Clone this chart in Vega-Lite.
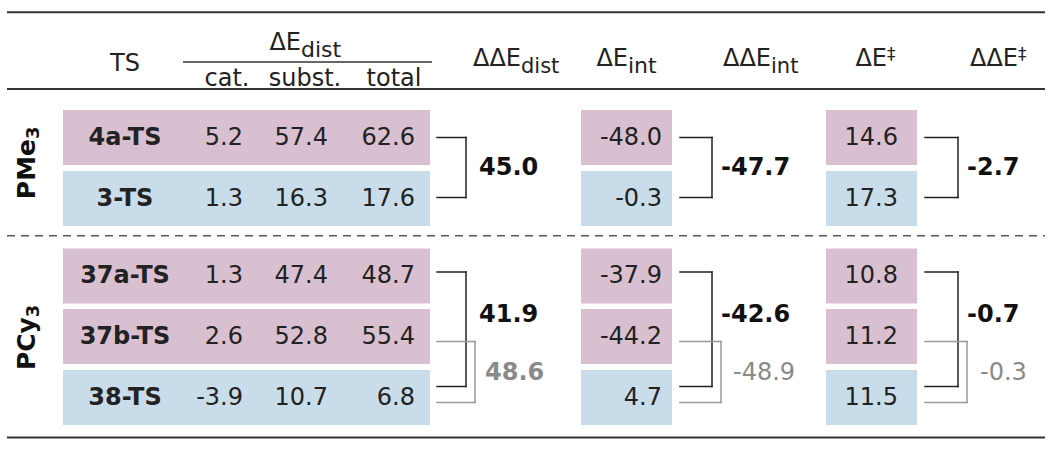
{
"$schema":"https://vega.github.io/schema/vega-lite/v6.json",
"width":1050,"height":452,"padding":0,"autosize":{"type":"none"},
"background":"white",
"config":{"view":{"stroke":null},
 "axis":{"disable":true},
 "locale":{"number":{"decimal":".","thousands":",","grouping":[3],"currency":["$",""],"minus":"-"}},
 "text":{"font":"DejaVu Sans","fontSize":24,"color":"#222222"},
 "rule":{"color":"#222222","strokeWidth":1.5,"strokeCap":"square"}},
"datasets":{
 "ts":[
  {"section":"PMe3","row":1,"ts":"4a-TS","kind":"A","cat":5.2,"subst":57.4,"total":62.6,"Eint":-48.0,"Ea":14.6},
  {"section":"PMe3","row":2,"ts":"3-TS","kind":"B","cat":1.3,"subst":16.3,"total":17.6,"Eint":-0.3,"Ea":17.3},
  {"section":"PCy3","row":3,"ts":"37a-TS","kind":"A","cat":1.3,"subst":47.4,"total":48.7,"Eint":-37.9,"Ea":10.8},
  {"section":"PCy3","row":4,"ts":"37b-TS","kind":"A","cat":2.6,"subst":52.8,"total":55.4,"Eint":-44.2,"Ea":11.2},
  {"section":"PCy3","row":5,"ts":"38-TS","kind":"B","cat":-3.9,"subst":10.7,"total":6.8,"Eint":4.7,"Ea":11.5}
 ],
 "br":[
  {"id":"b1","section":"PMe3","top":1,"bottom":2,"ddEdist":45.0,"ddEint":-47.7,"ddEa":-2.7},
  {"id":"b2","section":"PCy3","top":3,"bottom":5,"ddEdist":41.9,"ddEint":-42.6,"ddEa":-0.7},
  {"id":"b3","section":"PCy3","top":4,"bottom":5,"ddEdist":48.6,"ddEint":-48.9,"ddEa":-0.3}
 ],
 "one":[{}]
},
"layer":[
 {"data":{"name":"ts"},"mark":{"type":"bar","height":55},
  "encoding":{
   "x":{"datum":2,"type":"quantitative","axis":null,"scale":{"domain":[0,1,2,3,4,5,6,7,8,9,10,11,12,13,14,15,16,17,18,19,20,21,22,23,24,25,26,27,28,29,30,31,32,33,34,35,36,37,38],"range":[7,27,63,125,183,227,243,301,305,328,394,415,430,432,437,466,475,479,485,521,581,628,662,672,680,712,721,733,771,826,887,898,917,925,958,967,980,1018,1045],"zero":false,"nice":false}},
   "x2":{"datum":12},
   "y":{"field":"row","type":"quantitative","axis":null,"scale":{"domain":[-6,-5,-4,-3,-2,-1,1,2,3,4,5,6],"range":[7,50,62,66,86,89,137.5,198.5,276,336.5,397.5,443],"zero":false,"nice":false}},
   "color":{"field":"kind","type":"nominal","scale":{"domain":["A","B"],"range":["#d9c0d0","#c9dcea"]},"legend":null}}},
 {"data":{"name":"ts"},"mark":{"type":"bar","height":55},
  "encoding":{"x":{"datum":20,"type":"quantitative"},"x2":{"datum":23},"y":{"field":"row","type":"quantitative"},
   "color":{"field":"kind","type":"nominal","legend":null}}},
 {"data":{"name":"ts"},"mark":{"type":"bar","height":55},
  "encoding":{"x":{"datum":29,"type":"quantitative"},"x2":{"datum":32},"y":{"field":"row","type":"quantitative"},
   "color":{"field":"kind","type":"nominal","legend":null}}},
 {"data":{"name":"ts"},"encoding":{"y":{"field":"row","type":"quantitative"}},
  "layer":[
   {"mark":{"type":"text","fontWeight":"bold","align":"center","baseline":"middle"},"encoding":{"x":{"datum":3,"type":"quantitative"},"text":{"field":"ts"}}},
   {"mark":{"type":"text","align":"right","baseline":"middle"},"encoding":{"x":{"datum":6,"type":"quantitative"},"text":{"field":"cat","type":"quantitative","format":".1f"}}},
   {"mark":{"type":"text","align":"right","baseline":"middle"},"encoding":{"x":{"datum":9,"type":"quantitative"},"text":{"field":"subst","type":"quantitative","format":".1f"}}},
   {"mark":{"type":"text","align":"right","baseline":"middle"},"encoding":{"x":{"datum":11,"type":"quantitative"},"text":{"field":"total","type":"quantitative","format":".1f"}}},
   {"mark":{"type":"text","align":"right","baseline":"middle"},"encoding":{"x":{"datum":22,"type":"quantitative"},"text":{"field":"Eint","type":"quantitative","format":".1f"}}},
   {"mark":{"type":"text","align":"right","baseline":"middle"},"encoding":{"x":{"datum":31,"type":"quantitative"},"text":{"field":"Ea","type":"quantitative","format":".1f"}}}
  ]},
 {"data":{"name":"one"},
  "layer":[
   {"mark":{"type":"rule","strokeWidth":2,"color":"#333333","strokeCap":"butt"},"encoding":{"x":{"datum":0,"type":"quantitative"},"x2":{"datum":38},"y":{"datum":-6,"type":"quantitative"}}},
   {"mark":{"type":"rule","strokeWidth":2,"color":"#333333","strokeCap":"butt"},"encoding":{"x":{"datum":0,"type":"quantitative"},"x2":{"datum":38},"y":{"datum":-1,"type":"quantitative"}}},
   {"mark":{"type":"rule","strokeWidth":2,"color":"#333333","strokeCap":"butt"},"encoding":{"x":{"datum":0,"type":"quantitative"},"x2":{"datum":38},"y":{"datum":6,"type":"quantitative"}}},
   {"mark":{"type":"rule","strokeWidth":1.5,"color":"#555555","strokeDash":[8,6],"strokeCap":"butt"},"encoding":{"x":{"datum":0,"type":"quantitative"},"x2":{"datum":38},"y":{"datum":2.48,"type":"quantitative"}}},
   {"mark":{"type":"rule","strokeWidth":1.5,"color":"#333333","strokeCap":"butt"},"encoding":{"x":{"datum":4,"type":"quantitative"},"x2":{"datum":13},"y":{"datum":-4,"type":"quantitative"}}},
   {"mark":{"type":"text","text":"TS","align":"center","baseline":"alphabetic","dy":5},"encoding":{"x":{"datum":3,"type":"quantitative"},"y":{"datum":-3,"type":"quantitative"}}},
   {"mark":{"type":"text","text":"ΔE","align":"right","baseline":"alphabetic"},"encoding":{"x":{"datum":7,"type":"quantitative"},"y":{"datum":-5,"type":"quantitative"}}},
   {"mark":{"type":"text","text":"dist","align":"left","baseline":"alphabetic","dy":7,"fontSize":22},"encoding":{"x":{"datum":7,"type":"quantitative"},"y":{"datum":-5,"type":"quantitative"}}},
   {"mark":{"type":"text","text":"cat.","align":"center","baseline":"alphabetic"},"encoding":{"x":{"datum":5,"type":"quantitative"},"y":{"datum":-2,"type":"quantitative"}}},
   {"mark":{"type":"text","text":"subst.","align":"center","baseline":"alphabetic"},"encoding":{"x":{"datum":8,"type":"quantitative"},"y":{"datum":-2,"type":"quantitative"}}},
   {"mark":{"type":"text","text":"total","align":"center","baseline":"alphabetic"},"encoding":{"x":{"datum":10,"type":"quantitative"},"y":{"datum":-2,"type":"quantitative"}}},
   {"mark":{"type":"text","text":"ΔΔE","align":"right","baseline":"alphabetic"},"encoding":{"x":{"datum":19,"type":"quantitative"},"y":{"datum":-3,"type":"quantitative"}}},
   {"mark":{"type":"text","text":"dist","align":"left","baseline":"alphabetic","dy":7,"fontSize":21},"encoding":{"x":{"datum":19,"type":"quantitative"},"y":{"datum":-3,"type":"quantitative"}}},
   {"mark":{"type":"text","text":"ΔE","align":"right","baseline":"alphabetic"},"encoding":{"x":{"datum":21,"type":"quantitative"},"y":{"datum":-3,"type":"quantitative"}}},
   {"mark":{"type":"text","text":"int","align":"left","baseline":"alphabetic","dy":7,"fontSize":22},"encoding":{"x":{"datum":21,"type":"quantitative"},"y":{"datum":-3,"type":"quantitative"}}},
   {"mark":{"type":"text","text":"ΔΔE","align":"right","baseline":"alphabetic"},"encoding":{"x":{"datum":28,"type":"quantitative"},"y":{"datum":-3,"type":"quantitative"}}},
   {"mark":{"type":"text","text":"int","align":"left","baseline":"alphabetic","dy":7,"fontSize":21},"encoding":{"x":{"datum":28,"type":"quantitative"},"y":{"datum":-3,"type":"quantitative"}}},
   {"mark":{"type":"text","text":"ΔE","align":"right","baseline":"alphabetic"},"encoding":{"x":{"datum":30,"type":"quantitative"},"y":{"datum":-3,"type":"quantitative"}}},
   {"mark":{"type":"text","text":"‡","align":"left","baseline":"alphabetic","dy":-6,"fontSize":17},"encoding":{"x":{"datum":30,"type":"quantitative"},"y":{"datum":-3,"type":"quantitative"}}},
   {"mark":{"type":"text","text":"ΔΔE","align":"right","baseline":"alphabetic"},"encoding":{"x":{"datum":37,"type":"quantitative"},"y":{"datum":-3,"type":"quantitative"}}},
   {"mark":{"type":"text","text":"‡","align":"left","baseline":"alphabetic","dy":-6,"fontSize":17},"encoding":{"x":{"datum":37,"type":"quantitative"},"y":{"datum":-3,"type":"quantitative"}}},
   {"mark":{"type":"text","text":"PMe","align":"right","baseline":"middle","angle":270,"fontWeight":"bold","fontSize":25,"color":"#111111"},"encoding":{"x":{"datum":1,"type":"quantitative"},"y":{"datum":1.025,"type":"quantitative"}}},
   {"mark":{"type":"text","text":"3","align":"left","baseline":"middle","angle":270,"fontWeight":"bold","fontSize":18,"color":"#111111","xOffset":7},"encoding":{"x":{"datum":1,"type":"quantitative"},"y":{"datum":1.025,"type":"quantitative"}}},
   {"mark":{"type":"text","text":"PCy","align":"right","baseline":"middle","angle":270,"fontWeight":"bold","fontSize":25,"color":"#111111"},"encoding":{"x":{"datum":1,"type":"quantitative"},"y":{"datum":3.68,"type":"quantitative"}}},
   {"mark":{"type":"text","text":"3","align":"left","baseline":"middle","angle":270,"fontWeight":"bold","fontSize":18,"color":"#111111","xOffset":7},"encoding":{"x":{"datum":1,"type":"quantitative"},"y":{"datum":3.68,"type":"quantitative"}}}
  ]},
 {"data":{"name":"br"},"transform":[{"filter":{"field":"id","equal":"b1"}}],
  "layer":[
   {"mark":{"type":"rule","yOffset":0},"encoding":{"x":{"datum":14,"type":"quantitative"},"x2":{"datum":15},"y":{"field":"top","type":"quantitative"}}},
   {"mark":{"type":"rule","yOffset":-1},"encoding":{"x":{"datum":14,"type":"quantitative"},"x2":{"datum":15},"y":{"field":"bottom","type":"quantitative"}}},
   {"mark":{"type":"rule","yOffset":0,"y2Offset":-1},"encoding":{"x":{"datum":15,"type":"quantitative"},"y":{"field":"top","type":"quantitative"},"y2":{"field":"bottom"}}},
   {"mark":{"type":"rule","yOffset":0},"encoding":{"x":{"datum":24,"type":"quantitative"},"x2":{"datum":25},"y":{"field":"top","type":"quantitative"}}},
   {"mark":{"type":"rule","yOffset":-1},"encoding":{"x":{"datum":24,"type":"quantitative"},"x2":{"datum":25},"y":{"field":"bottom","type":"quantitative"}}},
   {"mark":{"type":"rule","yOffset":0,"y2Offset":-1},"encoding":{"x":{"datum":25,"type":"quantitative"},"y":{"field":"top","type":"quantitative"},"y2":{"field":"bottom"}}},
   {"mark":{"type":"rule","yOffset":0},"encoding":{"x":{"datum":33,"type":"quantitative"},"x2":{"datum":34},"y":{"field":"top","type":"quantitative"}}},
   {"mark":{"type":"rule","yOffset":-1},"encoding":{"x":{"datum":33,"type":"quantitative"},"x2":{"datum":34},"y":{"field":"bottom","type":"quantitative"}}},
   {"mark":{"type":"rule","yOffset":0,"y2Offset":-1},"encoding":{"x":{"datum":34,"type":"quantitative"},"y":{"field":"top","type":"quantitative"},"y2":{"field":"bottom"}}},
   {"mark":{"type":"text","fontWeight":"bold","align":"left","baseline":"middle","color":"#111111"},"encoding":{"x":{"datum":17,"type":"quantitative"},"y":{"datum":1.5,"type":"quantitative"},"text":{"field":"ddEdist","type":"quantitative","format":".1f"}}},
   {"mark":{"type":"text","fontWeight":"bold","align":"left","baseline":"middle","color":"#111111"},"encoding":{"x":{"datum":26,"type":"quantitative"},"y":{"datum":1.5,"type":"quantitative"},"text":{"field":"ddEint","type":"quantitative","format":".1f"}}},
   {"mark":{"type":"text","fontWeight":"bold","align":"left","baseline":"middle","color":"#111111"},"encoding":{"x":{"datum":35,"type":"quantitative"},"y":{"datum":1.5,"type":"quantitative"},"text":{"field":"ddEa","type":"quantitative","format":".1f"}}}
  ]},
 {"data":{"name":"br"},"transform":[{"filter":{"field":"id","equal":"b2"}}],
  "layer":[
   {"mark":{"type":"rule","yOffset":-4},"encoding":{"x":{"datum":14,"type":"quantitative"},"x2":{"datum":15},"y":{"field":"top","type":"quantitative"}}},
   {"mark":{"type":"rule","yOffset":-11},"encoding":{"x":{"datum":14,"type":"quantitative"},"x2":{"datum":15},"y":{"field":"bottom","type":"quantitative"}}},
   {"mark":{"type":"rule","yOffset":-4,"y2Offset":-11},"encoding":{"x":{"datum":15,"type":"quantitative"},"y":{"field":"top","type":"quantitative"},"y2":{"field":"bottom"}}},
   {"mark":{"type":"rule","yOffset":-4},"encoding":{"x":{"datum":24,"type":"quantitative"},"x2":{"datum":25},"y":{"field":"top","type":"quantitative"}}},
   {"mark":{"type":"rule","yOffset":-11},"encoding":{"x":{"datum":24,"type":"quantitative"},"x2":{"datum":25},"y":{"field":"bottom","type":"quantitative"}}},
   {"mark":{"type":"rule","yOffset":-4,"y2Offset":-11},"encoding":{"x":{"datum":25,"type":"quantitative"},"y":{"field":"top","type":"quantitative"},"y2":{"field":"bottom"}}},
   {"mark":{"type":"rule","yOffset":-4},"encoding":{"x":{"datum":33,"type":"quantitative"},"x2":{"datum":34},"y":{"field":"top","type":"quantitative"}}},
   {"mark":{"type":"rule","yOffset":-11},"encoding":{"x":{"datum":33,"type":"quantitative"},"x2":{"datum":34},"y":{"field":"bottom","type":"quantitative"}}},
   {"mark":{"type":"rule","yOffset":-4,"y2Offset":-11},"encoding":{"x":{"datum":34,"type":"quantitative"},"y":{"field":"top","type":"quantitative"},"y2":{"field":"bottom"}}},
   {"mark":{"type":"text","fontWeight":"bold","align":"left","baseline":"middle","color":"#111111"},"encoding":{"x":{"datum":17,"type":"quantitative"},"y":{"datum":3.65,"type":"quantitative"},"text":{"field":"ddEdist","type":"quantitative","format":".1f"}}},
   {"mark":{"type":"text","fontWeight":"bold","align":"left","baseline":"middle","color":"#111111"},"encoding":{"x":{"datum":26,"type":"quantitative"},"y":{"datum":3.65,"type":"quantitative"},"text":{"field":"ddEint","type":"quantitative","format":".1f"}}},
   {"mark":{"type":"text","fontWeight":"bold","align":"left","baseline":"middle","color":"#111111"},"encoding":{"x":{"datum":35,"type":"quantitative"},"y":{"datum":3.65,"type":"quantitative"},"text":{"field":"ddEa","type":"quantitative","format":".1f"}}}
  ]},
 {"data":{"name":"br"},"transform":[{"filter":{"field":"id","equal":"b3"}}],
  "layer":[
   {"mark":{"type":"rule","yOffset":5,"color":"#999999"},"encoding":{"x":{"datum":14,"type":"quantitative"},"x2":{"datum":16},"y":{"field":"top","type":"quantitative"}}},
   {"mark":{"type":"rule","yOffset":5,"color":"#999999"},"encoding":{"x":{"datum":14,"type":"quantitative"},"x2":{"datum":16},"y":{"field":"bottom","type":"quantitative"}}},
   {"mark":{"type":"rule","yOffset":5,"y2Offset":5,"color":"#999999"},"encoding":{"x":{"datum":16,"type":"quantitative"},"y":{"field":"top","type":"quantitative"},"y2":{"field":"bottom"}}},
   {"mark":{"type":"rule","yOffset":5,"color":"#999999"},"encoding":{"x":{"datum":24,"type":"quantitative"},"x2":{"datum":26},"y":{"field":"top","type":"quantitative"}}},
   {"mark":{"type":"rule","yOffset":5,"color":"#999999"},"encoding":{"x":{"datum":24,"type":"quantitative"},"x2":{"datum":26},"y":{"field":"bottom","type":"quantitative"}}},
   {"mark":{"type":"rule","yOffset":5,"y2Offset":5,"color":"#999999"},"encoding":{"x":{"datum":26,"type":"quantitative"},"y":{"field":"top","type":"quantitative"},"y2":{"field":"bottom"}}},
   {"mark":{"type":"rule","yOffset":5,"color":"#999999"},"encoding":{"x":{"datum":33,"type":"quantitative"},"x2":{"datum":35},"y":{"field":"top","type":"quantitative"}}},
   {"mark":{"type":"rule","yOffset":5,"color":"#999999"},"encoding":{"x":{"datum":33,"type":"quantitative"},"x2":{"datum":35},"y":{"field":"bottom","type":"quantitative"}}},
   {"mark":{"type":"rule","yOffset":5,"y2Offset":5,"color":"#999999"},"encoding":{"x":{"datum":35,"type":"quantitative"},"y":{"field":"top","type":"quantitative"},"y2":{"field":"bottom"}}},
   {"mark":{"type":"text","fontWeight":"bold","align":"left","baseline":"middle","color":"#8a8a8a"},"encoding":{"x":{"datum":18,"type":"quantitative"},"y":{"datum":4.6,"type":"quantitative"},"text":{"field":"ddEdist","type":"quantitative","format":".1f"}}},
   {"mark":{"type":"text","align":"left","baseline":"middle","color":"#8a8a8a"},"encoding":{"x":{"datum":27,"type":"quantitative"},"y":{"datum":4.6,"type":"quantitative"},"text":{"field":"ddEint","type":"quantitative","format":".1f"}}},
   {"mark":{"type":"text","align":"left","baseline":"middle","color":"#8a8a8a"},"encoding":{"x":{"datum":36,"type":"quantitative"},"y":{"datum":4.6,"type":"quantitative"},"text":{"field":"ddEa","type":"quantitative","format":".1f"}}}
  ]}
]
}
